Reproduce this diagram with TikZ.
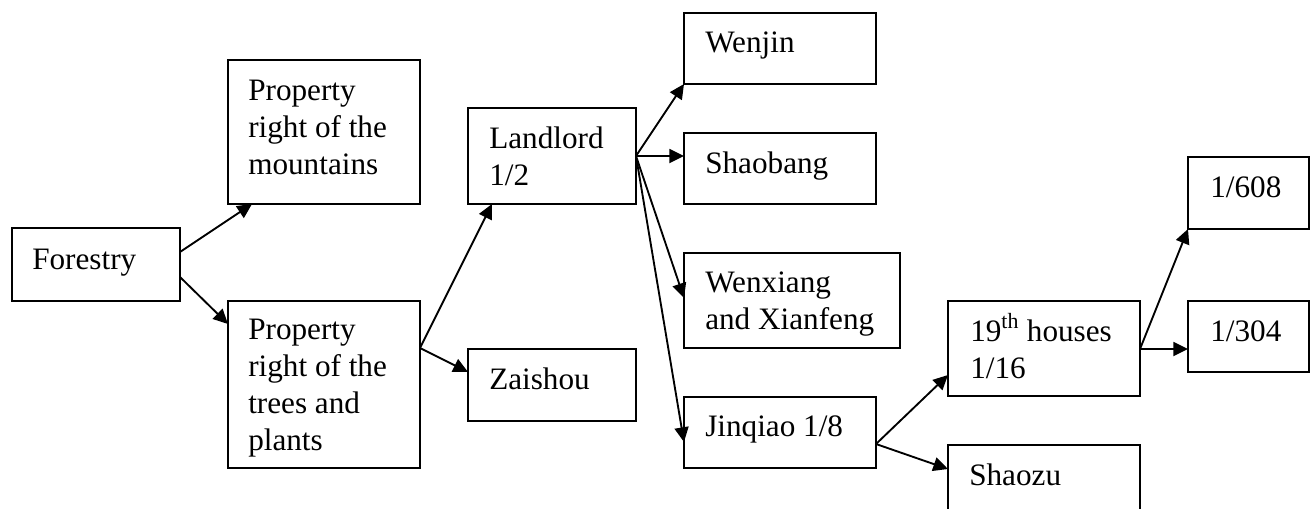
\documentclass[tikz,border=0pt]{standalone}
\usepackage{fontspec}
\setmainfont{Liberation Serif}
\usetikzlibrary{calc,arrows.meta}
\tikzset{
  box/.style 2 args={draw, line width=1.5pt, minimum width=#1*0.75pt, minimum height=#2*0.75pt, inner sep=0pt, outer sep=0pt},
  lbl/.style={anchor=base west, inner sep=0pt, font=\fontsize{23.4}{27.75}\selectfont},
  conn/.style={line width=1.4pt, -{Triangle[length=11pt,width=10.5pt]}, shorten >=0pt}
}
\newcommand{\ml}[1]{\begin{tabular}[t]{@{}l@{}}#1\end{tabular}}
\begin{document}
\begin{tikzpicture}[x=0.75pt,y=-0.75pt]
\clip (0,0) rectangle (1315,508);
\fill[white] (0,0) rectangle (1315,508);
% boxes
\node[box={168}{73}]  (F)  at (96,264.5) {};
\node[box={192}{144}] (M)  at (324,132) {};
\node[box={192}{167}] (T)  at (324,384.5) {};
\node[box={168}{96}]  (L)  at (552,156) {};
\node[box={168}{72}]  (Z)  at (552,385) {};
\node[box={192}{71}]  (W)  at (780,48.5) {};
\node[box={192}{71}]  (S)  at (780,168.5) {};
\node[box={216}{95}]  (X)  at (792,300.5) {};
\node[box={192}{71}]  (J)  at (780,432.5) {};
\node[box={192}{95}]  (H)  at (1044,348.5) {};
\node[box={192}{90}]  (Sz) at (1044,490) {};
\node[box={121}{72}]  (P6) at (1248.5,193) {};
\node[box={121}{71}]  (P3) at (1248.5,336.5) {};
% labels
\node[lbl] (Ft)  at ($(F.north west)+(20,41)$)  {Forestry};
\node[lbl] (Mt)  at ($(M.north west)+(20,40)$)  {\ml{Property\\right of the\\mountains}};
\node[lbl] (Tt)  at ($(T.north west)+(20,38)$)  {\ml{Property\\right of the\\trees and\\plants}};
\node[lbl] (Lt)  at ($(L.north west)+(21,40)$)  {\ml{Landlord\\1/2}};
\node[lbl] (Zt)  at ($(Z.north west)+(21,40)$)  {Zaishou};
\node[lbl] (Wt)  at ($(W.north west)+(21,39)$)  {Wenjin};
\node[lbl] (St)  at ($(S.north west)+(21,40)$)  {Shaobang};
\node[lbl] (Xt)  at ($(X.north west)+(21,39)$)  {\ml{Wenxiang\\and Xianfeng}};
\node[lbl] (Jt)  at ($(J.north west)+(21,39)$)  {Jinqiao 1/8};
\node[lbl] (Ht)  at ($(H.north west)+(22,40)$)  {\ml{19\textsuperscript{th} houses\\1/16}};
\node[lbl] (Szt) at ($(Sz.north west)+(21,40)$) {Shaozu};
\node[lbl] (P6t) at ($(P6.north west)+(22,40)$) {1/608};
\node[lbl] (P3t) at ($(P3.north west)+(22,40)$) {1/304};
% connectors
\draw[conn] ($(F.north east)+(0,24)$) -- ($(M.south west)+(24,0)$);
\draw[conn] ($(F.north east)+(0,49)$) -- ($(T.north west)+(0,23)$);
\draw[conn] ($(T.north east)+(0,47)$) -- ($(L.south west)+(24,0)$);
\draw[conn] ($(T.north east)+(0,47)$) -- ($(Z.north west)+(0,23)$);
\draw[conn] ($(L.north east)+(0,48)$) -- (W.south west);
\draw[conn] ($(L.north east)+(0,48)$) -- ($(S.north west)+(0,23)$);
\draw[conn] ($(L.north east)+(0,48)$) -- ($(X.north west)+(0,45)$);
\draw[conn] ($(L.north east)+(0,48)$) -- ($(J.north west)+(0,45)$);
\draw[conn] ($(J.north east)+(0,47)$) -- ($(H.north west)+(0,74)$);
\draw[conn] ($(J.north east)+(0,47)$) -- ($(Sz.north west)+(0,24)$);
\draw[conn] ($(H.north east)+(0,48)$) -- (P6.south west);
\draw[conn] ($(H.north east)+(0,48)$) -- ($(P3.north west)+(0,48)$);
\end{tikzpicture}
\end{document}
